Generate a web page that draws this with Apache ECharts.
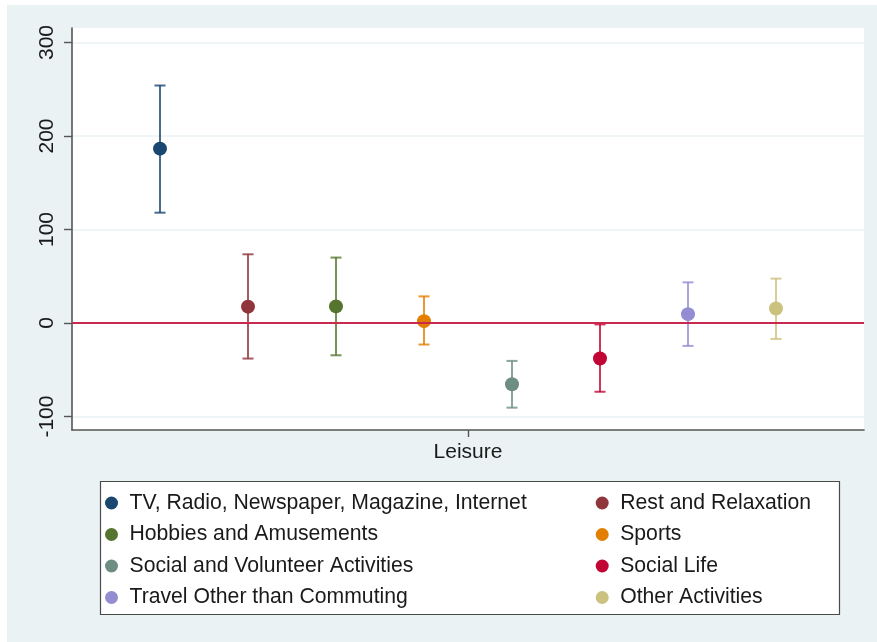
<!DOCTYPE html>
<html>
<head>
<meta charset="utf-8">
<script src="https://cdn.jsdelivr.net/npm/echarts@6/dist/echarts.min.js"></script>
<style>
  html, body { margin: 0; padding: 0; background: #ffffff; }
  #chart { position: absolute; left: 7px; top: 5px; width: 870px; height: 637px; }
</style>
</head>
<body>
<div id="chart"></div>
<script>
// Leisure activities: point estimates with confidence intervals
const categories = [
  'TV, Radio, Newspaper, Magazine, Internet',
  'Rest and Relaxation',
  'Hobbies and Amusements',
  'Sports',
  'Social and Volunteer Activities',
  'Social Life',
  'Travel Other than Commuting',
  'Other Activities'
];
const estimates = [186.5, 17.5, 17.8, 2, -65.5, -38, 9.5, 15.5];
const lowerCI   = [118, -38, -34.5, -23, -90.5, -73.5, -24.5, -17];
const upperCI   = [254, 73.5, 70, 28.5, -40.5, -1.5, 43.5, 47.5];
const colors = ['#1a476f', '#90353b', '#55752f', '#e37e00',
                '#6e8e84', '#c10534', '#938dd2', '#cac27e'];
const yTicks = [-100, 0, 100, 200, 300];
const groupLabel = 'Leisure';
const groupPosition = 4.5;

const FONT = "'Liberation Sans', Arial, Helvetica, sans-serif";
const TEXT = '#1a1a1a';

function errorBar(color) {
  return function (params, api) {
    const x = api.value(0);
    const lo = api.coord([x, api.value(1)]);
    const hi = api.coord([x, api.value(2)]);
    const half = 5.5;
    const style = { stroke: color, lineWidth: 2, opacity: 0.8 };
    return {
      type: 'group',
      children: [
        { type: 'line', shape: { x1: lo[0], y1: lo[1], x2: hi[0], y2: hi[1] }, style },
        { type: 'line', shape: { x1: lo[0] - half, y1: lo[1], x2: lo[0] + half, y2: lo[1] }, style },
        { type: 'line', shape: { x1: hi[0] - half, y1: hi[1], x2: hi[0] + half, y2: hi[1] }, style }
      ]
    };
  };
}

const series = [];
// reference line at zero
series.push({
  type: 'scatter', name: '__zero', data: [], silent: true, z: 1,
  markLine: {
    silent: true, symbol: 'none', animation: false,
    label: { show: false },
    lineStyle: { color: '#c9284f', width: 2, type: 'solid' },
    data: [{ yAxis: 0 }]
  }
});
categories.forEach((name, i) => {
  series.push({
    type: 'scatter', name, z: 4,
    symbol: 'circle', symbolSize: 14,
    itemStyle: { color: colors[i], opacity: 1 },
    data: [[i + 1, estimates[i]]]
  });
});
categories.forEach((name, i) => {
  series.push({
    type: 'custom', name, z: 3,
    renderItem: errorBar(colors[i]),
    itemStyle: { color: colors[i] },
    encode: { x: 0, y: [1, 2] },
    data: [[i + 1, lowerCI[i], upperCI[i]]]
  });
});

const legendCommon = {
  orient: 'vertical',
  padding: 0,
  icon: 'circle',
  itemWidth: 26,
  itemHeight: 13,
  itemGap: 10.5,
  selectedMode: false,
  textStyle: { fontFamily: FONT, fontSize: 21.2, color: TEXT, lineHeight: 21 }
};

const chart = echarts.init(document.getElementById('chart'), null, { renderer: 'canvas' });
chart.setOption({
  animation: false,
  backgroundColor: '#eaf2f3',
  graphic: [
    { type: 'rect', z: -1, shape: { x: 65, y: 23, width: 792, height: 402 },
      style: { fill: '#ffffff' } },
    { type: 'rect', z: 0, shape: { x: 93.5, y: 476.5, width: 739, height: 133 },
      style: { fill: '#ffffff', stroke: '#4a4a4a', lineWidth: 1.2 } }
  ],
  grid: { left: 65, top: 23, width: 792, height: 402, containLabel: false },
  xAxis: {
    type: 'value', min: 0, max: 9,
    axisLine: { show: true, onZero: false, lineStyle: { color: '#555555', width: 1.6 } },
    axisTick: { show: true, customValues: [groupPosition], length: 7,
                lineStyle: { color: '#555555', width: 1.4 } },
    axisLabel: { show: true, customValues: [groupPosition], margin: 12,
                 formatter: () => groupLabel,
                 fontFamily: FONT, fontSize: 21, color: TEXT },
    splitLine: { show: false }
  },
  yAxis: {
    type: 'value', min: -114.4, max: 315.5,
    axisLine: { show: true, onZero: false, lineStyle: { color: '#555555', width: 1.6 } },
    axisTick: { show: true, customValues: yTicks, length: 8,
                lineStyle: { color: '#555555', width: 1.4 } },
    axisLabel: { show: true, customValues: yTicks, rotate: 90, margin: 14,
                 fontFamily: FONT, fontSize: 21, color: TEXT },
    splitLine: { show: true, lineStyle: { color: '#eaf2f3', width: 1.6 } }
  },
  legend: [
    Object.assign({}, legendCommon, {
      left: 98, top: 487.5,
      data: [categories[0], categories[2], categories[4], categories[6]]
    }),
    Object.assign({}, legendCommon, {
      left: 588.7, top: 487.5,
      data: [categories[1], categories[3], categories[5], categories[7]]
    })
  ],
  series
});
</script>
</body>
</html>
